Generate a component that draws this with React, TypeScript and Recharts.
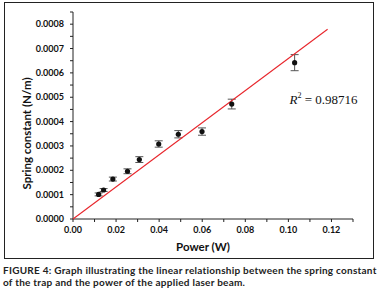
import {
  ComposedChart,
  Scatter,
  ErrorBar,
  XAxis,
  YAxis,
  ReferenceDot,
} from "recharts";

const POWER = [0.0119, 0.0142, 0.0185, 0.0253, 0.0308, 0.0398, 0.0489, 0.0599, 0.0737, 0.1029];
const SPRING = [0.000101, 0.000119, 0.000164, 0.000196, 0.000244, 0.000308, 0.000348, 0.000359, 0.000472, 0.000642];
const SPRING_ERR = [0.000006, 0.000006, 0.000008, 0.00001, 0.000012, 0.000013, 0.000015, 0.000015, 0.00002, 0.000033];

// linear fit through the origin
const FIT_X = [0, 0.1182];
const FIT_Y = [0, 0.000779];

const X_TICKS = [0, 0.01, 0.02, 0.03, 0.04, 0.05, 0.06, 0.07, 0.08, 0.09, 0.1, 0.11, 0.12, 0.13];
const Y_TICKS = [
  0, 0.00005, 0.0001, 0.00015, 0.0002, 0.00025, 0.0003, 0.00035, 0.0004,
  0.00045, 0.0005, 0.00055, 0.0006, 0.00065, 0.0007, 0.00075, 0.0008, 0.00085,
];

const R2_TEXT = "0.98716";

const points = POWER.map((x, i) => ({ x, y: SPRING[i], err: SPRING_ERR[i] }));
const fit = FIT_X.map((x, i) => ({ x, y: FIT_Y[i] }));

const FONT = "Lato, 'Open Sans', sans-serif";

function fmtX(v: number) {
  const k = Math.round(v * 100);
  return k % 2 === 0 && k <= 12 ? v.toFixed(2) : "";
}

function fmtY(v: number) {
  const k = Math.round(v * 100000);
  return k % 2 === 0 ? v.toFixed(4) : "";
}

function YLabel({ viewBox }: { viewBox?: { x: number; y: number; width: number; height: number } }) {
  if (!viewBox) return null;
  const x = viewBox.x + 21;
  const y = viewBox.y + viewBox.height / 2 + 18;
  return (
    <text
      x={x}
      y={y}
      transform={`rotate(-90 ${x} ${y})`}
      textAnchor="middle"
      dominantBaseline="central"
      fontFamily={FONT}
      fontWeight={700}
      fontSize={11.5}
      fill="#111"
    >
      Spring constant (N/m)
    </text>
  );
}

function XLabel({ viewBox }: { viewBox?: { x: number; y: number; width: number; height: number } }) {
  if (!viewBox) return null;
  return (
    <text
      x={viewBox.x + viewBox.width / 2 - 10}
      y={viewBox.y + 27}
      textAnchor="middle"
      dominantBaseline="central"
      fontFamily={FONT}
      fontWeight={700}
      fontSize={11.5}
      fill="#111"
    >
      Power (W)
    </text>
  );
}

function R2Label({ viewBox }: { viewBox?: { x: number; y: number } }) {
  if (!viewBox) return null;
  return (
    <text
      x={viewBox.x}
      y={viewBox.y}
      textAnchor="middle"
      dominantBaseline="central"
      fontFamily="'Liberation Serif', serif"
      fontSize={13}
      fill="#111"
    >
      <tspan fontStyle="italic">R</tspan>
      <tspan fontSize={8} dy={-4}>2</tspan>
      <tspan dy={4}>{` = ${R2_TEXT}`}</tspan>
    </text>
  );
}

const Dot = (p: { cx?: number; cy?: number }) => <circle cx={p.cx} cy={p.cy} r={2.6} fill="#111" />;
const NoDot = () => <g />;

export default function App() {
  return (
    <div style={{ position: "absolute", left: 0, top: 0, width: 380, height: 291, background: "#fff" }}>
      <div
        style={{
          position: "absolute",
          left: 4,
          top: 2,
          width: 368,
          height: 255,
          border: "1px solid #222",
        }}
      >
        <ComposedChart width={368} height={255} margin={{ top: 9, right: 20, bottom: 0, left: 0 }}>
          <XAxis
            dataKey="x"
            type="number"
            domain={[0, 0.13]}
            ticks={X_TICKS}
            tickFormatter={fmtX}
            interval={0}
            height={39}
            tickSize={3}
            tickMargin={5}
            stroke="#222"
            tick={{ fill: "#111", fontSize: 9, fontWeight: 700, fontFamily: FONT }}
            label={<XLabel />}
          />
          <YAxis
            dataKey="y"
            type="number"
            domain={[0, 0.00085]}
            ticks={Y_TICKS}
            tickFormatter={fmtY}
            interval={0}
            width={68}
            tickSize={3}
            tickMargin={6}
            stroke="#222"
            tick={{ fill: "#111", fontSize: 9, fontWeight: 700, fontFamily: FONT }}
            label={<YLabel />}
          />
          <Scatter
            data={fit}
            line={{ stroke: "#e8262c", strokeWidth: 1.1 }}
            shape={NoDot}
            isAnimationActive={false}
          />
          <Scatter data={points} shape={Dot} isAnimationActive={false}>
            <ErrorBar dataKey="err" direction="y" width={4} stroke="#555" strokeWidth={1} isAnimationActive={false} />
          </Scatter>
          <ReferenceDot x={0.1163} y={0.000493} r={0} stroke="none" label={<R2Label />} />
        </ComposedChart>
      </div>
      <div
        style={{
          position: "absolute",
          left: 3,
          top: 264,
          width: 377,
          fontFamily: FONT,
          fontWeight: 700,
          fontSize: 10,
          letterSpacing: 0.25,
          lineHeight: "12px",
          color: "#222",
          whiteSpace: "nowrap",
        }}
      >
        <div>FIGURE 4: Graph illustrating the linear relationship between the spring constant</div>
        <div>of the trap and the power of the applied laser beam.</div>
      </div>
    </div>
  );
}
